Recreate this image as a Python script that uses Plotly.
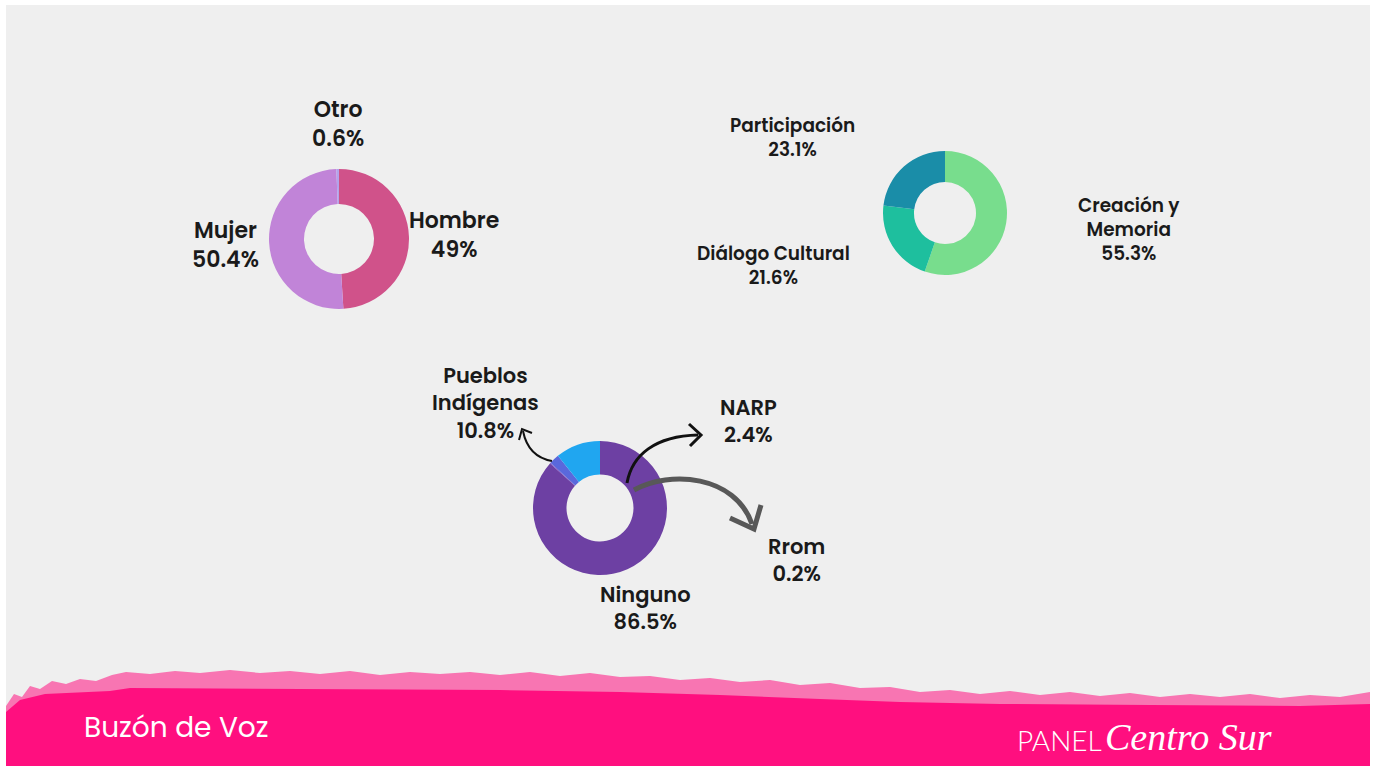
import plotly.graph_objects as go

W, H = 1374, 769

# ---- data ----
genero_labels = ["Hombre", "Mujer", "Otro"]
genero_values = [49.0, 50.4, 0.6]
genero_colors = ["#d0528a", "#c184d8", "#b3a2ea"]

linea_labels = ["Creación y<br>Memoria", "Diálogo Cultural", "Participación"]
linea_values = [55.3, 21.6, 23.1]
linea_colors = ["#78dd8d", "#1ebf9e", "#1a8da8"]

etnia_labels = ["Ninguno", "Rrom", "NARP", "Pueblos<br>Indígenas"]
etnia_values = [86.5, 0.2, 2.4, 10.8]
etnia_colors = ["#6d40a3", "#7a4fc2", "#5a68dc", "#20a6f0"]

footer_left = "Buzón de Voz"
footer_right_a = "PANEL"
footer_right_b = "Centro Sur"


def fmt(v):
    s = f"{v:.1f}"
    if s.endswith(".0"):
        s = s[:-2]
    return s + "%"


def dom(cx, cy, r):
    return dict(x=[(cx - r) / W, (cx + r) / W], y=[1 - (cy + r) / H, 1 - (cy - r) / H])


fig = go.Figure()

pies = [
    (genero_labels, genero_values, genero_colors, (339, 239, 70), 0.5),
    (linea_labels, linea_values, linea_colors, (945, 213, 62), 0.5),
    (etnia_labels, etnia_values, etnia_colors, (600, 508, 67), 0.5),
]
for labels, values, colors, (cx, cy, r), hole in pies:
    fig.add_trace(go.Pie(
        labels=labels, values=values, hole=hole, sort=False, direction="clockwise",
        rotation=0, marker=dict(colors=colors, line=dict(width=0)),
        textinfo="none", showlegend=False, domain=dom(cx, cy, r), hoverinfo="label+percent",
    ))

# invisible pixel axes for annotations/shapes
fig.update_xaxes(range=[0, W], visible=False, fixedrange=True)
fig.update_yaxes(range=[H, 0], visible=False, fixedrange=True)
fig.add_trace(go.Scatter(x=[0, W], y=[0, H], mode="markers", marker=dict(opacity=0), showlegend=False, hoverinfo="skip"))

LABEL_FONT = "Poppins, 'Open Sans', Lato, sans-serif"

# label positions (centre x, first-line centre y, font size)
label_pos = {
    ("g", 0): (454, 219, 22),
    ("g", 1): (225, 229, 22),
    ("g", 2): (338, 108, 22),
    ("l", 0): (1129, 205, 18.5),
    ("l", 1): (773, 253, 18.5),
    ("l", 2): (792, 125, 18.5),
    ("e", 0): (645, 594, 21),
    ("e", 1): (796, 546, 21),
    ("e", 2): (748, 407, 21),
    ("e", 3): (485, 375, 21),
}
annos = []
for key, labels, values in [("g", genero_labels, genero_values), ("l", linea_labels, linea_values),
                            ("e", etnia_labels, etnia_values)]:
    for i, (lab, val) in enumerate(zip(labels, values)):
        x, y, fs = label_pos[(key, i)]
        annos.append(dict(
            x=x, y=y - fs * 0.75, xref="x", yref="y", xanchor="center", yanchor="top",
            text=f"{lab}<br>{fmt(val)}", showarrow=False, align="center",
            font=dict(family=LABEL_FONT, size=fs, color="#1a1a1a", weight=600),
        ))

# footer texts
annos.append(dict(x=82, y=727, xref="x", yref="y", xanchor="left", yanchor="middle", text=footer_left,
                  showarrow=False, font=dict(family="Poppins, 'Open Sans', sans-serif", size=28, color="white")))
annos.append(dict(x=1015, y=740, xref="x", yref="y", xanchor="left", yanchor="middle", text=footer_right_a,
                  showarrow=False, font=dict(family="Lato, sans-serif", size=28, color="white", weight=300)))
annos.append(dict(x=1103, y=737, xref="x", yref="y", xanchor="left", yanchor="middle",
                  text=f"<i>{footer_right_b}</i>", showarrow=False,
                  font=dict(family="'Liberation Serif', serif", size=38, color="white")))

shapes = []
# paper background
shapes.append(dict(type="rect", xref="x", yref="y", x0=6, x1=1370, y0=5, y1=766, fillcolor="#efefef",
                   line=dict(width=0), layer="below"))
# pink band: ragged fringe and solid part
fringe = ("M 6 706 L 14 694 L 22 697 L 30 686 L 40 689 L 52 681 L 66 684 L 80 679 L 96 681 L 112 675 "
          "L 126 672 L 150 674 L 175 671 L 200 673 L 230 670 L 260 673 L 290 671 L 320 674 L 350 671 "
          "L 380 675 L 410 672 L 440 674 L 470 672 L 500 675 L 530 672 L 560 676 L 590 673 L 620 677 "
          "L 650 676 L 680 680 L 710 678 L 740 682 L 770 680 L 800 685 L 830 683 L 860 688 L 890 687 "
          "L 920 692 L 950 690 L 980 694 L 1010 691 L 1040 695 L 1070 692 L 1100 696 L 1130 693 "
          "L 1160 697 L 1190 694 L 1220 697 L 1250 694 L 1280 698 L 1310 695 L 1340 697 L 1370 692 "
          "L 1370 766 L 6 766 Z")
shapes.append(dict(type="path", xref="x", yref="y", path=fringe, fillcolor="rgba(255,16,128,0.55)",
                   line=dict(width=0), layer="below"))
solid = ("M 6 712 L 20 700 L 45 694 L 110 691 L 130 688 L 300 689 L 500 690 L 620 692 L 720 695 "
         "L 820 699 L 900 702 L 1000 704 L 1150 705 L 1300 706 L 1370 704 L 1370 766 L 6 766 Z")
shapes.append(dict(type="path", xref="x", yref="y", path=solid, fillcolor="#ff0f7f",
                   line=dict(width=0), layer="below"))

# arrows
shapes.append(dict(type="path", xref="x", yref="y", path="M 627 483 C 632 455, 655 436, 698 435",
                   line=dict(color="#111111", width=3)))
shapes.append(dict(type="path", xref="x", yref="y", path="M 689 424 L 701 435 L 690 446",
                   line=dict(color="#111111", width=3)))
shapes.append(dict(type="path", xref="x", yref="y", path="M 634 490 C 670 470, 735 475, 752 524",
                   line=dict(color="#585858", width=5)))
shapes.append(dict(type="path", xref="x", yref="y", path="M 730 518 L 754 529 L 761 505",
                   line=dict(color="#585858", width=5)))
shapes.append(dict(type="path", xref="x", yref="y", path="M 552 461 C 535 458, 526 446, 523 431",
                   line=dict(color="#111111", width=2)))
shapes.append(dict(type="path", xref="x", yref="y", path="M 519 440 L 522 429 L 532 433",
                   line=dict(color="#111111", width=2)))

fig.update_layout(
    width=W, height=H, margin=dict(l=0, r=0, t=0, b=0),
    paper_bgcolor="#ffffff", plot_bgcolor="rgba(0,0,0,0)",
    annotations=annos, shapes=shapes, showlegend=False,
)

fig.write_html("out.html", config={"displayModeBar": False},
               post_script="document.body.style.margin='0px';document.body.style.overflow='hidden';")
